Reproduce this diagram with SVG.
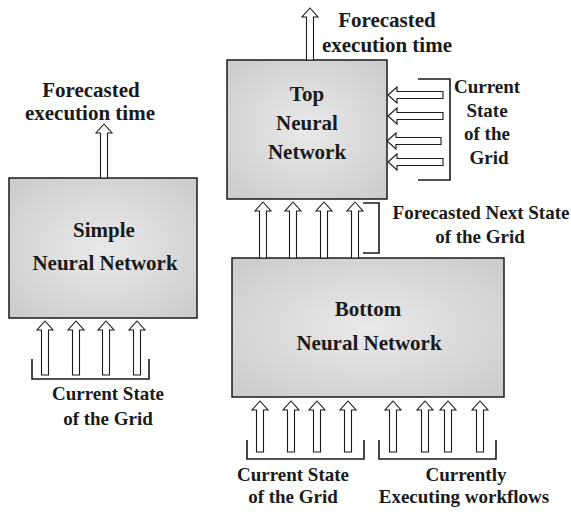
<svg xmlns="http://www.w3.org/2000/svg" width="571" height="512" viewBox="0 0 571 512">
<defs>
<radialGradient id="boxFill" cx="50%" cy="50%" r="65%">
<stop offset="0" stop-color="#e9e9e9"/>
<stop offset="1" stop-color="#cdcdcd"/>
</radialGradient>
<style>
.box{fill:url(#boxFill);stroke:#1a1a1a;stroke-width:1.5}
.arr{fill:#fff;stroke:#1a1a1a;stroke-width:1.1;stroke-linejoin:miter}
.brk{fill:none;stroke:#1a1a1a;stroke-width:1.6}
text{font-family:"Liberation Serif","Times New Roman",serif;font-weight:bold;fill:#1a1a1a;text-anchor:middle}
.t21{font-size:21px}
.t19{font-size:19px}
</style>
</defs>
<rect width="571" height="512" fill="#fff"/>

<g id="simple-nn">
<rect class="box" x="9" y="178" width="188" height="140"/>
<text class="t21" x="104" y="237">Simple</text>
<text class="t21" x="105" y="270">Neural Network</text>
</g>

<g id="top-nn">
<rect class="box" x="227" y="60" width="160" height="139"/>
<text class="t21" x="307" y="101">Top</text>
<text class="t21" x="307" y="130">Neural</text>
<text class="t21" x="307" y="159">Network</text>
</g>

<g id="bottom-nn">
<rect class="box" x="232" y="258" width="272" height="139"/>
<text class="t21" x="368" y="316">Bottom</text>
<text class="t21" x="369" y="350">Neural Network</text>
</g>

<g id="connectors">
<path class="arr" d="M104,124 L112,133 L107.5,133 L107.5,178 L100.5,178 L100.5,133 L96,133 Z"/>
<path class="arr" d="M310,8 L318,17 L313.5,17 L313.5,60 L306.5,60 L306.5,17 L302,17 Z"/>

<path class="arr" d="M45,321 L53,330 L48.5,330 L48.5,375 L41.5,375 L41.5,330 L37,330 Z"/>
<path class="arr" d="M76,321 L84,330 L79.5,330 L79.5,375 L72.5,375 L72.5,330 L68,330 Z"/>
<path class="arr" d="M106,321 L114,330 L109.5,330 L109.5,375 L102.5,375 L102.5,330 L98,330 Z"/>
<path class="arr" d="M137,321 L145,330 L140.5,330 L140.5,375 L133.5,375 L133.5,330 L129,330 Z"/>

<path class="arr" d="M263,202 L271,211 L266.5,211 L266.5,258 L259.5,258 L259.5,211 L255,211 Z"/>
<path class="arr" d="M293,202 L301,211 L296.5,211 L296.5,258 L289.5,258 L289.5,211 L285,211 Z"/>
<path class="arr" d="M324,202 L332,211 L327.5,211 L327.5,258 L320.5,258 L320.5,211 L316,211 Z"/>
<path class="arr" d="M355,202 L363,211 L358.5,211 L358.5,258 L351.5,258 L351.5,211 L347,211 Z"/>

<path class="arr" d="M260,401 L268,410 L263.5,410 L263.5,452 L256.5,452 L256.5,410 L252,410 Z"/>
<path class="arr" d="M291,401 L299,410 L294.5,410 L294.5,452 L287.5,452 L287.5,410 L283,410 Z"/>
<path class="arr" d="M317,401 L325,410 L320.5,410 L320.5,452 L313.5,452 L313.5,410 L309,410 Z"/>
<path class="arr" d="M348,401 L356,410 L351.5,410 L351.5,452 L344.5,452 L344.5,410 L340,410 Z"/>
<path class="arr" d="M393,401 L401,410 L396.5,410 L396.5,452 L389.5,452 L389.5,410 L385,410 Z"/>
<path class="arr" d="M425,401 L433,410 L428.5,410 L428.5,452 L421.5,452 L421.5,410 L417,410 Z"/>
<path class="arr" d="M448,401 L456,410 L451.5,410 L451.5,452 L444.5,452 L444.5,410 L440,410 Z"/>
<path class="arr" d="M480,401 L488,410 L483.5,410 L483.5,452 L476.5,452 L476.5,410 L472,410 Z"/>

<path class="arr" d="M388,95 L397,87 L397,91.5 L443,91.5 L443,98.5 L397,98.5 L397,103 Z"/>
<path class="arr" d="M388,116 L397,108 L397,112.5 L443,112.5 L443,119.5 L397,119.5 L397,124 Z"/>
<path class="arr" d="M387,141 L396,133 L396,137.5 L441,137.5 L441,144.5 L396,144.5 L396,149 Z"/>
<path class="arr" d="M388,162 L397,154 L397,158.5 L443,158.5 L443,165.5 L397,165.5 L397,170 Z"/>
</g>

<g id="brackets">
<path class="brk" d="M32,359 L32,379 L149,379 L149,359"/>
<path class="brk" d="M247,440 L247,459 L364,459 L364,440"/>
<path class="brk" d="M379,440 L379,459 L496,459 L496,440"/>
<path class="brk" d="M363,203 L379,203 L379,253 L363,253"/>
<path class="brk" d="M418,79 L450,79 L450,180 L418,180"/>
</g>

<g id="labels">
<text class="t21" x="91" y="97">Forecasted</text>
<text class="t21" x="90" y="120">execution time</text>
<text class="t21" x="387" y="27">Forecasted</text>
<text class="t21" x="387" y="52">execution time</text>
<text class="t19" x="108" y="400">Current State</text>
<text class="t19" x="108" y="425">of the Grid</text>
<text class="t19" x="487" y="93">Current</text>
<text class="t19" x="487" y="117">State</text>
<text class="t19" x="487" y="140">of the</text>
<text class="t19" x="489" y="164">Grid</text>
<text class="t19" x="481" y="219">Forecasted Next State</text>
<text class="t19" x="480" y="243">of the Grid</text>
<text class="t19" x="293" y="481">Current State</text>
<text class="t19" x="293" y="503">of the Grid</text>
<text class="t19" x="466" y="481">Currently</text>
<text class="t19" x="464" y="503">Executing workflows</text>
</g>
</svg>
